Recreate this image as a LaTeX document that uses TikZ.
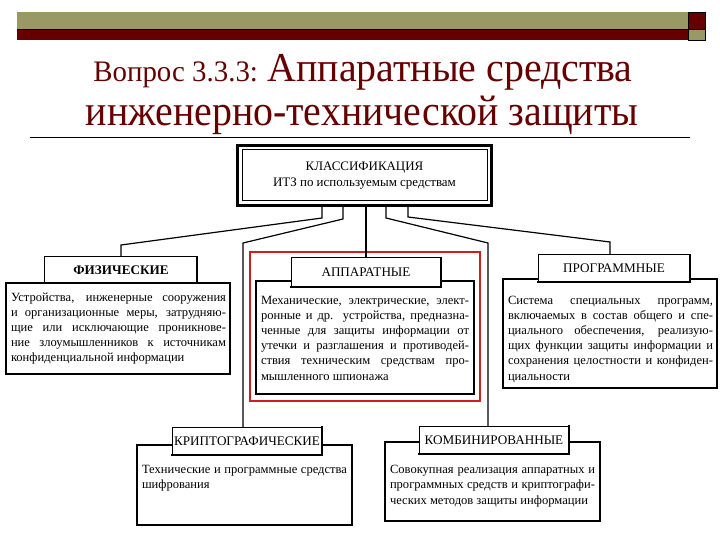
\documentclass[tikz,border=0pt]{standalone}
\usepackage{fontspec}
\setmainfont{Liberation Serif}
\usepackage{graphicx}
\definecolor{tmaroon}{HTML}{660000}
\definecolor{tkhaki}{HTML}{999966}
\definecolor{tred}{HTML}{CC1F1F}
\newcommand{\jline}[2]{\makebox[#1][s]{#2}}
\newcommand{\lline}[2]{\makebox[#1][l]{#2}}
\newcommand{\bfnt}{\fontsize{12.6}{15.3}\selectfont}
\begin{document}
\begin{tikzpicture}[x=1bp,y=-1bp,
  hdr/.style={draw, fill=white, line width=1bp, inner sep=0pt, outer sep=0pt, font=\fontsize{13.2}{14}\selectfont},
  hdrshadow/.style={line width=2.6bp, line cap=rect},
  bodybox/.style={draw, fill=white, line width=1.1bp, inner sep=0pt, outer sep=0pt, anchor=north west},
  btext/.style={inner sep=0pt, outer sep=0pt, anchor=base west},
  conn/.style={line width=1.2bp},
]
\useasboundingbox (0,0) rectangle (720,540);
\fill[white] (0,0) rectangle (720,540);

% title bar
\fill[tkhaki] (17,12) rectangle (688,29);
\fill[tmaroon] (17,29) rectangle (688,40);
\fill[tmaroon] (688,12) rectangle (705,29);
\fill[tkhaki] (688,29) rectangle (705,40);
\draw[line width=0.8bp] (17,29) -- (705,29);
\draw[line width=0.8bp] (688,12) -- (688,40);
\draw[line width=0.8bp] (688,12) rectangle (705,40);

% title
\node[anchor=base, text=tmaroon, inner sep=0pt] (t1) at (363,82)
  {\scalebox{1}[1.03]{{\fontsize{29}{29}\selectfont Вопрос 3.3.3: }{\fontsize{40}{40}\selectfont Аппаратные средства}}};
\node[anchor=base, text=tmaroon, inner sep=0pt, font=\fontsize{40}{40}\selectfont] (t2) at (362,126)
  {\scalebox{1}[1.08]{инженерно-технической защиты}};
\draw[line width=0.8bp] (30,137) -- (690,137);

% top box
\node[draw, line width=3.5bp, minimum width=254bp, minimum height=60bp, inner sep=0pt, outer sep=0pt,
      align=center, font=\fontsize{13}{16.5}\selectfont] (top) at (364.5,175.5)
  {КЛАССИФИКАЦИЯ\\ИТЗ по используемым средствам};
\draw[line width=1bp] ([xshift=4.5bp,yshift=-4.5bp]top.north west) rectangle ([xshift=-4.5bp,yshift=4.5bp]top.south east);

% bodies
\node[bodybox, minimum width=224bp, minimum height=91bp] (fizb) at (6,283) {};
\node[bodybox, minimum width=218bp, minimum height=113bp] (apb) at (256,281) {};
\node[bodybox, minimum width=214bp, minimum height=109bp] (progb) at (503,279) {};
\node[bodybox, minimum width=215bp, minimum height=80bp] (kriptb) at (137,445) {};
\node[bodybox, minimum width=215bp, minimum height=79bp] (kombb) at (385,442) {};

% red frame
\draw[tred, line width=1.8bp] (250,252) rectangle (480,401);

% headers
\node[hdr, minimum width=152bp, minimum height=26bp] (fizh) at (121,270) {\bfseries ФИЗИЧЕСКИЕ};
\node[hdr, minimum width=150bp, minimum height=29bp] (aph) at (366,272.5) {АППАРАТНЫЕ};
\node[hdr, minimum width=152bp, minimum height=27bp] (progh) at (614,268.5) {ПРОГРАММНЫЕ};
\node[hdr, minimum width=150bp, minimum height=28bp] (kripth) at (247,441) {КРИПТОГРАФИЧЕСКИЕ};
\node[hdr, minimum width=150bp, minimum height=28bp] (kombh) at (494,440) {КОМБИНИРОВАННЫЕ};
\foreach \h in {fizh,aph,progh,kripth,kombh}{
  \draw[hdrshadow] (\h.north east) -- (\h.south east) -- (\h.south west);
}

% body texts
\node[btext] (fizt) at (11,301) {\parbox[t]{215bp}{\bfnt
  \jline{215bp}{Устройства, инженерные сооружения}\\
  \jline{215bp}{и организационные меры, затрудняю-}\\
  \jline{215bp}{щие или исключающие проникнове-}\\
  \jline{215bp}{ние злоумышленников к источникам}\\
  \lline{215bp}{конфиденциальной информации}}};
\node[btext] (apt) at (261,304) {\parbox[t]{208bp}{\bfnt
  \jline{208bp}{Механические, электрические, элект-}\\
  \jline{208bp}{ронные и др. устройства, предназна-}\\
  \jline{208bp}{ченные для защиты информации от}\\
  \jline{208bp}{утечки и разглашения и противодей-}\\
  \jline{208bp}{ствия техническим средствам про-}\\
  \lline{208bp}{мышленного шпионажа}}};
\node[btext] (progt) at (508,304) {\parbox[t]{205bp}{\bfnt
  \jline{205bp}{Система специальных программ,}\\
  \jline{205bp}{включаемых в состав общего и спе-}\\
  \jline{205bp}{циального обеспечения, реализую-}\\
  \jline{205bp}{щих функции защиты информации и}\\
  \jline{205bp}{сохранения целостности и конфиден-}\\
  \lline{205bp}{циальности}}};
\node[btext] (kriptt) at (142,473) {\parbox[t]{205bp}{\bfnt
  \jline{205bp}{Технические и программные средства}\\
  \lline{205bp}{шифрования}}};
\node[btext] (kombt) at (390,473) {\parbox[t]{205bp}{\fontsize{12.6}{15.8}\selectfont
  \jline{205bp}{Совокупная реализация аппаратных и}\\
  \jline{205bp}{программных средств и криптографи-}\\
  \lline{205bp}{ческих методов защиты информации}}};

% connectors
\coordinate (a1) at (322,218); \coordinate (a2) at (121,245);
\coordinate (b1) at (343,219); \coordinate (b2) at (243,243);
\coordinate (d1) at (386,218); \coordinate (d2) at (488,243);
\coordinate (e1) at (408,217); \coordinate (e2) at (610,242);
\draw[conn] (a1 |- top.south) -- (a1) -- (a2) -- (a2 |- fizh.north);
\draw[conn] (b1 |- top.south) -- (b1) -- (b2) -- (b2 |- kripth.north);
\draw[conn] (top.south -| aph.north) -- (aph.north);
\draw[conn] (d1 |- top.south) -- (d1) -- (d2) -- (d2 |- kombh.north);
\draw[conn] (e1 |- top.south) -- (e1) -- (e2) -- (e2 |- progh.north);
\end{tikzpicture}
\end{document}
